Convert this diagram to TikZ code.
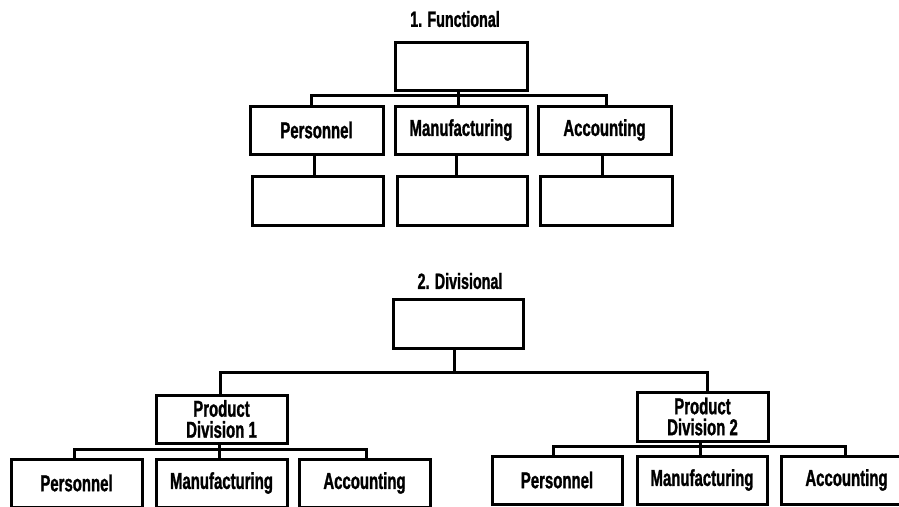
\documentclass[tikz,border=0pt]{standalone}
\usepackage{fontspec}
\setmainfont{Liberation Sans}[FakeStretch=0.65, BoldFeatures={FakeBold=1.2}]

\begin{document}
\begin{tikzpicture}[x=1pt, y=-1pt,
    orgbox/.style={draw, line width=3pt, minimum width=131pt, minimum height=48pt, inner sep=0pt, align=center, font=\fontsize{23}{21}\selectfont\bfseries},
    link/.style={line width=3pt},
    headline/.style={font=\fontsize{22}{22}\selectfont\bfseries}]
    % Fix the page size
    \useasboundingbox (0,0) rectangle (899,506);
    \clip (0,0) rectangle (899,506);

    % 1. Functional
    \node[headline] (ftitle) at (455,19) {1. Functional};
    \node[orgbox, minimum width=132pt] (ftop) at (461,66) {};
    \node[orgbox, minimum width=133pt] (fpers) at (316.5,130) {Personnel};
    \node[orgbox, minimum width=132pt] (fman) at (461,130) {Manufacturing};
    \node[orgbox, minimum width=133pt] (facc) at (604.5,130) {Accounting};
    \node[orgbox, minimum height=49pt] (fsubA) at (317.5,200.5) {};
    \node[orgbox, minimum width=130pt, minimum height=49pt] (fsubB) at (462,200.5) {};
    \node[orgbox, minimum width=132pt, minimum height=49pt] (fsubC) at (606,200.5) {};

    % Connect the functional chart
    \coordinate (fbar) at (458,95);
    \draw[link] (fbar |- ftop.south) -- (fbar);
    \draw[link] ([xshift=-5pt]fpers.north) |- (fbar) -| ([xshift=2pt]facc.north);
    \draw[link] (fbar) -- (fbar |- fman.north);
    \draw[link] ([xshift=-3pt]fsubA.north) -- ([xshift=-3pt]fsubA.north |- fpers.south);
    \draw[link] ([xshift=-6pt]fsubB.north) -- ([xshift=-6pt]fsubB.north |- fman.south);
    \draw[link] ([xshift=-4pt]fsubC.north) -- ([xshift=-4pt]fsubC.north |- facc.south);

    % 2. Divisional
    \node[headline] (dtitle) at (460,281) {2. Divisional};
    \node[orgbox, minimum width=130pt, minimum height=49pt] (dtop) at (458,323.5) {};
    \node[orgbox] (dprodA) at (221.5,419) {Product\\Division 1};
    \node[orgbox, minimum height=49pt] (dprodB) at (702.5,416.5) {Product\\Division 2};

    % Division 1 departments
    \node[orgbox, minimum height=48pt] (dApers) at (76.5,483) {Personnel};
    \node[orgbox, minimum height=48pt] (dAman) at (221.5,483) {Manufacturing};
    \node[orgbox, minimum height=48pt] (dAacc) at (364.5,483) {Accounting};

    % Division 2 departments
    \node[orgbox, minimum width=130pt, minimum height=48pt] (dBpers) at (557,480) {Personnel};
    \node[orgbox, minimum width=130pt, minimum height=48pt] (dBman) at (702,480) {Manufacturing};
    \node[orgbox, minimum height=48pt] (dBacc) at (846.5,480) {Accounting};

    % Connect the divisional chart
    \coordinate (dbar) at (454,372);
    \draw[link] (dbar |- dtop.south) -- (dbar);
    \draw[link] ([xshift=-1.5pt]dprodA.north) |- (dbar) -| ([xshift=4.5pt]dprodB.north);

    \coordinate (dAbar) at (219,449);
    \draw[link] (dAbar |- dprodA.south) -- (dAbar);
    \draw[link] ([xshift=-2.5pt]dApers.north) |- (dAbar) -| ([xshift=1.5pt]dAacc.north);
    \draw[link] (dAbar) -- (dAbar |- dAman.north);

    \coordinate (dBbar) at (700,446);
    \draw[link] (dBbar |- dprodB.south) -- (dBbar);
    \draw[link] ([xshift=-4pt]dBpers.north) |- (dBbar) -| ([xshift=-1.5pt]dBacc.north);
    \draw[link] (dBbar) -- (dBbar |- dBman.north);
\end{tikzpicture}
\end{document}
